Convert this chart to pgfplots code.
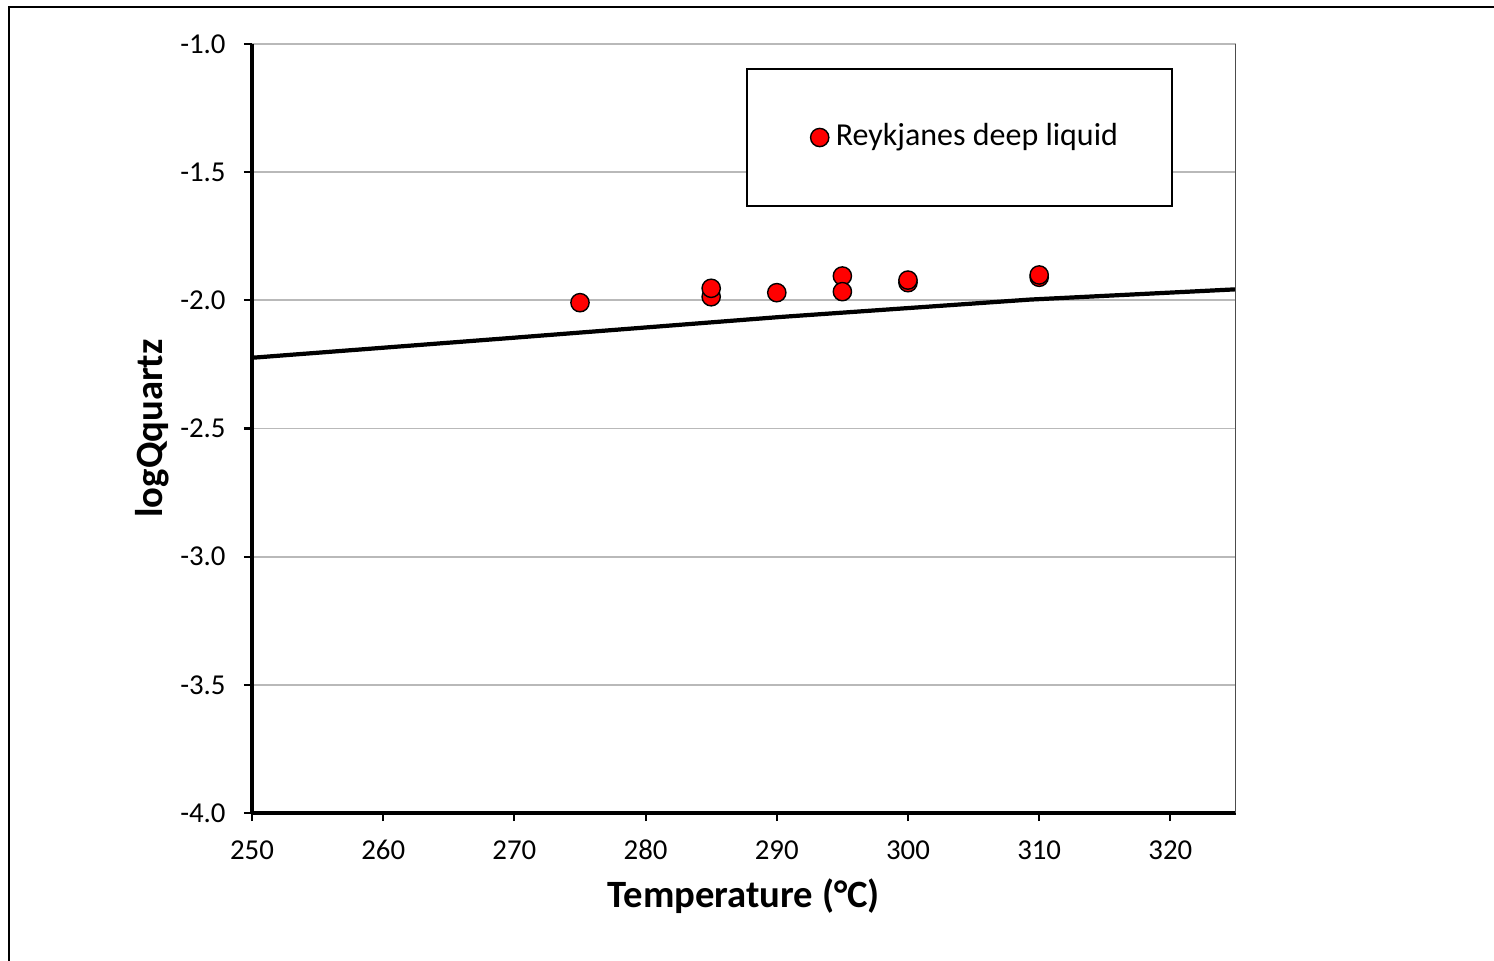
\documentclass[border=0pt]{standalone}
\usepackage{pgfplots}
\pgfplotsset{compat=1.18}
\usepackage{fontspec}
\setmainfont{Carlito}
\pgfplotsset{onemark/.style={legend image code/.code={%
  \path (-0.16cm,0cm);
  \draw[mark repeat=2,mark phase=2,##1] plot coordinates {(0cm,0cm) (0.09cm,0cm) (0.18cm,0cm)};}}}

\begin{document}
\begin{tikzpicture}
\useasboundingbox (0,0) rectangle (14.94,-9.61);
% chart frame, cut off at right and bottom as in the reference
\draw[line width=0.8pt] (0.09,-11) -- (0.09,-0.07) -- (16,-0.07);
\begin{axis}[
  at={(2.52cm,-8.13cm)}, anchor=south west,
  scale only axis, width=9.84cm, height=7.69cm,
  xmin=250, xmax=325, ymin=-4, ymax=-1,
  xtick={250,260,...,320}, ytick={-4,-3.5,-3,-2.5,-2,-1.5,-1},
  axis x line*=bottom, axis y line*=left,
  axis line style={-, black, line width=0.9pt},
  ymajorgrids, grid style={gray!55, line width=0.5pt},
  tick align=outside, major tick length=0.08cm,
  tick style={black, line width=0.6pt},
  /pgf/number format/assume math mode=true,
  ticklabel style={font=\fontsize{8.2}{10}\selectfont, text height=5.3pt, text depth=0pt},
  xticklabel style={yshift=-0.07cm},
  yticklabel style={xshift=-0.06cm, /pgf/number format/.cd, fixed, fixed zerofill, precision=1},
  xlabel={Temperature (°C)}, ylabel={logQquartz},
  label style={font=\fontsize{11}{13}\selectfont\bfseries},
  xlabel style={at={(axis description cs:0.5,-0.108)}, anchor=center},
  ylabel style={at={(axis description cs:-0.1016,0.5)}, anchor=center},
  legend style={at={(rel axis cs:0.502,0.969)}, anchor=north west,
    draw=black, line width=0.5pt, font=\fontsize{9.1}{11}\selectfont,
    inner xsep=0.47cm, inner ysep=0.48cm},
  legend cell align=left,
]
\addplot[black, line width=1.2pt, forget plot] coordinates {
  (250,-2.224) (269.66,-2.147) (290.24,-2.065) (309.3,-1.997) (325,-1.957)};
\addplot[only marks, mark=*, mark size=2.6pt,
  mark options={fill=red, draw=black, line width=0.4pt}, onemark]
  coordinates {
  (275,-2.009) (285,-1.986) (285,-1.953) (290,-1.970) (295,-1.905)
  (295,-1.966) (300,-1.931) (300,-1.921) (310,-1.910) (310,-1.901)};
\addlegendentry{Reykjanes deep liquid}
\draw[gray!60!black, line width=0.5pt] (rel axis cs:1,0) -- (rel axis cs:1,1);
\end{axis}
\end{tikzpicture}
\end{document}
